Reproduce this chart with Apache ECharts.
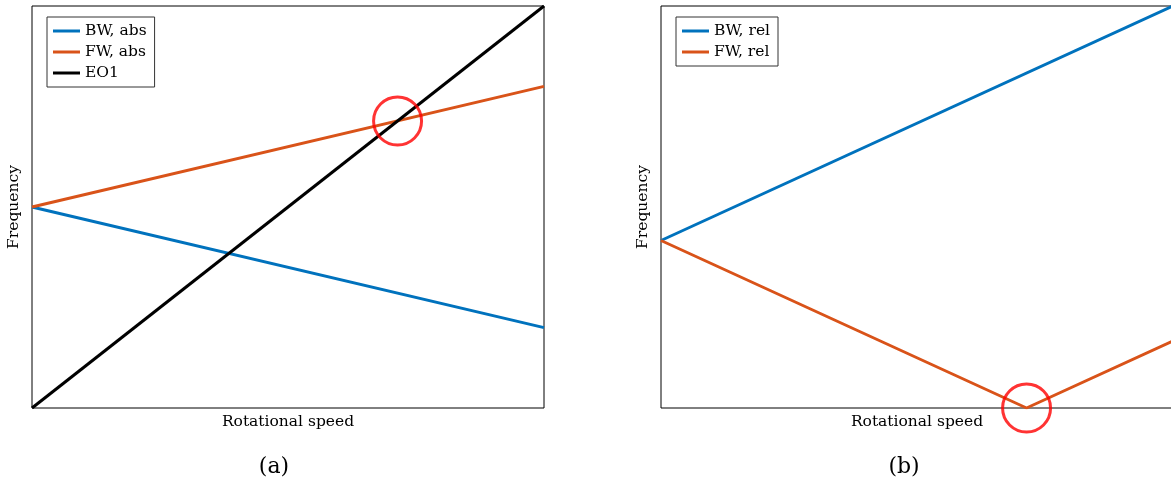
<!DOCTYPE html>
<html>
<head>
<meta charset="utf-8">
<script src="https://cdn.jsdelivr.net/npm/echarts@6/dist/echarts.min.js"></script>
<style>
  html, body { margin: 0; padding: 0; background: #fff; }
  #chart { width: 1171px; height: 484px; }
</style>
</head>
<body>
<div id="chart"></div>
<script>
// Panel (a): absolute whirl frequencies against rotational speed
const speedAbs = [0, 1];
const bwAbs = [0.5, 0.2];
const fwAbs = [0.5, 0.8];
const eo1 = [0, 1];
const crossA = [0.714, 0.714];

// Panel (b): frequencies seen in the rotating frame
const bwRelSpeed = [0, 1];
const bwRel = [0.5, 1.2];
const fwRelSpeed = [0, 0.714, 1];
const fwRel = [0.5, 0, 0.2];
const crossB = [0.714, 0];

const labelsA = ['BW, abs', 'FW, abs', 'EO1'];
const labelsB = ['BW, rel', 'FW, rel'];
const captions = ['(a)', '(b)'];

const BLUE = '#0072BD', ORANGE = '#D95319', BLACK = '#000000', RED = '#FF0000';
const FONT = 'DejaVu Serif';

const pairs = (xs, ys) => xs.map((x, i) => [x, ys[i]]);

function xAx(idx) {
  return {
    type: 'value', gridIndex: idx, min: 0, max: 1,
    axisLine: { show: false }, axisTick: { show: false },
    axisLabel: { show: false }, splitLine: { show: false },
    name: 'Rotational speed', nameLocation: 'middle', nameGap: 6,
    nameTextStyle: { fontFamily: FONT, fontSize: 15.5, color: '#000' }
  };
}
function yAx(idx, max) {
  return {
    type: 'value', gridIndex: idx, min: 0, max: max,
    axisLine: { show: false }, axisTick: { show: false },
    axisLabel: { show: false }, splitLine: { show: false },
    name: 'Frequency', nameLocation: 'middle', nameGap: 10,
    nameTextStyle: { fontFamily: FONT, fontSize: 15.5, color: '#000' }
  };
}
function line(name, data, color, xi, z) {
  return {
    name: name, type: 'line', data: data, xAxisIndex: xi, yAxisIndex: xi,
    showSymbol: false, symbol: 'none', animation: false, z: z || 2,
    lineStyle: { color: color, width: 3 }, itemStyle: { color: color }
  };
}
function ring(pt, xi) {
  return {
    type: 'scatter', data: [pt], xAxisIndex: xi, yAxisIndex: xi,
    symbol: 'circle', symbolSize: 48, clip: false, z: 5, silent: true,
    itemStyle: { color: 'rgba(0,0,0,0)', borderColor: RED, borderWidth: 3 }
  };
}
const legendBase = {
  orient: 'vertical', icon: 'rect', itemWidth: 27, itemHeight: 3, itemGap: 3,
  padding: [5, 8, 5, 6], borderColor: '#333', borderWidth: 1,
  backgroundColor: '#fff',
  textStyle: { fontFamily: FONT, fontSize: 15.5, color: '#000', lineHeight: 18 }
};

const captionStyle = { fontFamily: FONT, fontSize: 22, fontWeight: 'normal', color: '#000' };

const chart = echarts.init(document.getElementById('chart'));
chart.setOption({
  animation: false,
  backgroundColor: '#fff',
  title: [
    { text: captions[0], left: 274, top: 456, textAlign: 'center', padding: 0, textStyle: captionStyle },
    { text: captions[1], left: 904, top: 456, textAlign: 'center', padding: 0, textStyle: captionStyle }
  ],
  grid: [
    { left: 32, top: 6, width: 512, height: 402, outerBoundsMode: 'none', show: true, borderColor: '#000', borderWidth: 1, backgroundColor: 'transparent' },
    { left: 661, top: 6, width: 512, height: 402, outerBoundsMode: 'none', show: true, borderColor: '#000', borderWidth: 1, backgroundColor: 'transparent' }
  ],
  legend: [
    Object.assign({}, legendBase, { left: 47, top: 17, data: labelsA }),
    Object.assign({}, legendBase, { left: 676, top: 17, data: labelsB })
  ],
  xAxis: [xAx(0), xAx(1)],
  yAxis: [yAx(0, 1), yAx(1, 1.2)],
  series: [
    line(labelsA[0], pairs(speedAbs, bwAbs), BLUE, 0),
    line(labelsA[1], pairs(speedAbs, fwAbs), ORANGE, 0),
    line(labelsA[2], pairs(speedAbs, eo1), BLACK, 0, 3),
    ring(crossA, 0),
    line(labelsB[0], pairs(bwRelSpeed, bwRel), BLUE, 1),
    line(labelsB[1], pairs(fwRelSpeed, fwRel), ORANGE, 1),
    ring(crossB, 1)
  ]
});
</script>
</body>
</html>
